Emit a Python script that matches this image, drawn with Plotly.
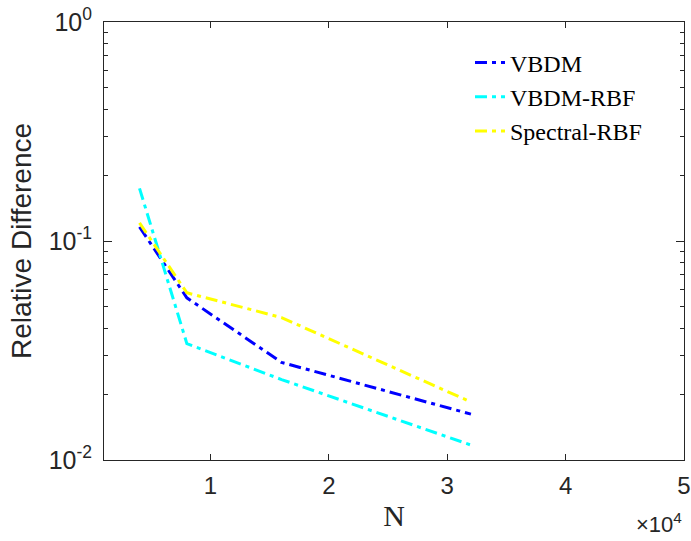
import plotly.graph_objects as go

N = [4000, 8000, 16000, 32000]
vbdm = [0.116, 0.055, 0.0279, 0.0162]
vbdm_rbf = [0.174, 0.034, 0.0233, 0.0117]
spectral_rbf = [0.121, 0.058, 0.0447, 0.0184]

series = [
    ("VBDM", vbdm, "#0000FF"),
    ("VBDM-RBF", vbdm_rbf, "#00FFFF"),
    ("Spectral-RBF", spectral_rbf, "#FFFF00"),
]

x_tickvals = [10000, 20000, 30000, 40000, 50000]
x_ticktext = ["1", "2", "3", "4", "5"]
y_tickvals = [0.01, 0.1, 1]
y_ticktext = ["10<sup>-2</sup>", "10<sup>-1</sup>", "10<sup>0</sup>"]
y_minorvals = [m * d for d in (0.01, 0.1) for m in range(2, 10)]

axcol = "#262626"
sans = "Liberation Sans, Arial, sans-serif"
serif = "Liberation Serif, Times New Roman, serif"

fig = go.Figure()
for name, vals, col in series:
    fig.add_trace(go.Scatter(
        x=N, y=vals, mode="lines", name=name,
        line=dict(color=col, width=3, dash="12px,5px,4px,5px"),
    ))

fig.update_layout(
    width=691, height=541,
    margin=dict(l=104, r=7, t=22, b=81),
    paper_bgcolor="white", plot_bgcolor="white",
    showlegend=True,
    legend=dict(
        x=0.631, y=0.958, xanchor="left", yanchor="top",
        bgcolor="rgba(0,0,0,0)", borderwidth=0,
        font=dict(family=serif, size=24, color="black"),
        tracegroupgap=0, itemwidth=30,
    ),
    xaxis=dict(
        range=[1000, 50000], automargin=False,
        tickvals=x_tickvals, ticktext=x_ticktext,
        ticks="inside", ticklen=6, tickcolor=axcol,
        showline=True, linecolor=axcol, linewidth=1, mirror="ticks",
        showgrid=False, zeroline=False, ticklabelstandoff=4,
        tickfont=dict(family=sans, size=24, color=axcol),
        title=dict(text="N", font=dict(family=serif, size=30, color=axcol), standoff=7),
    ),
    yaxis=dict(
        type="log", range=[-2, 0], automargin=False,
        tickvals=y_tickvals, ticktext=y_ticktext,
        ticks="inside", ticklen=8, tickcolor=axcol,
        minor=dict(ticks="inside", ticklen=4, tickcolor=axcol, tickvals=y_minorvals, showgrid=False),
        showline=True, linecolor=axcol, linewidth=1, mirror="ticks",
        showgrid=False, zeroline=False, ticklabelstandoff=6,
        tickfont=dict(family=sans, size=25, color=axcol),
        title=dict(text="Relative Difference", font=dict(family=sans, size=28, color=axcol), standoff=8),
    ),
)

fig.add_annotation(
    xref="paper", yref="paper", x=1.0, y=-0.18, xanchor="right", yanchor="bottom",
    text="×10<sup>4</sup>", showarrow=False,
    font=dict(family=sans, size=22, color=axcol),
)

fig.write_html("out.html", config={"displayModeBar": False},
               post_script="document.body.style.margin='0';")
